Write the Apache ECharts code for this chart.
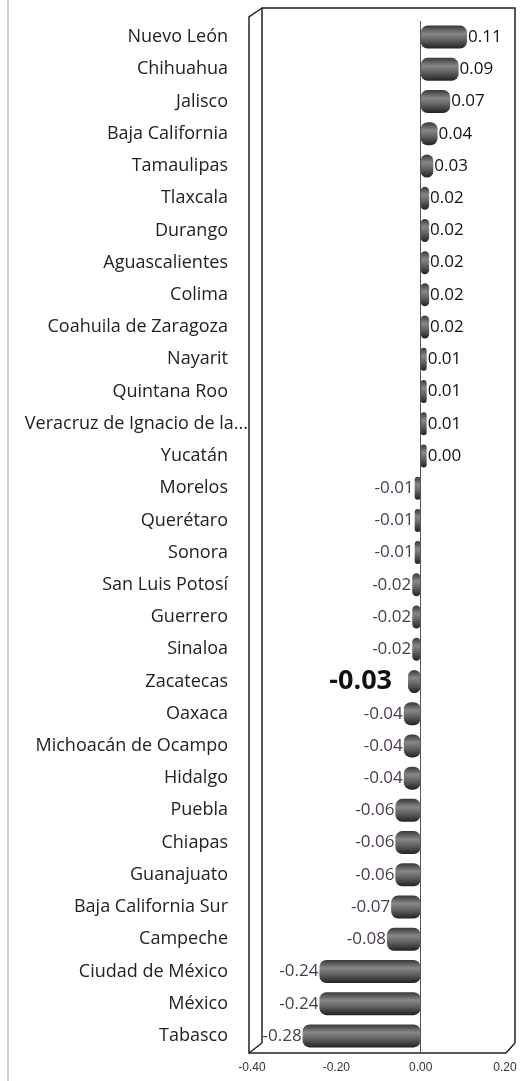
<!DOCTYPE html>
<html>
<head>
<meta charset="utf-8">
<script src="https://cdn.jsdelivr.net/npm/echarts@6/dist/echarts.min.js"></script>
<style>
  html, body { margin: 0; padding: 0; background: #fff; }
  #chart { width: 524px; height: 1081px; }
</style>
</head>
<body>
<div id="chart"></div>
<script>
// estados, de arriba hacia abajo
var estados = ['Nuevo León', 'Chihuahua', 'Jalisco', 'Baja California', 'Tamaulipas', 'Tlaxcala',
  'Durango', 'Aguascalientes', 'Colima', 'Coahuila de Zaragoza', 'Nayarit', 'Quintana Roo',
  'Veracruz de Ignacio de la...', 'Yucatán', 'Morelos', 'Querétaro', 'Sonora', 'San Luis Potosí',
  'Guerrero', 'Sinaloa', 'Zacatecas', 'Oaxaca', 'Michoacán de Ocampo', 'Hidalgo', 'Puebla',
  'Chiapas', 'Guanajuato', 'Baja California Sur', 'Campeche', 'Ciudad de México', 'México', 'Tabasco'];
var valores = [0.11, 0.09, 0.07, 0.04, 0.03, 0.02, 0.02, 0.02, 0.02, 0.02, 0.01, 0.01, 0.01, 0.00,
  -0.01, -0.01, -0.01, -0.02, -0.02, -0.02, -0.03, -0.04, -0.04, -0.04, -0.06, -0.06, -0.06,
  -0.07, -0.08, -0.24, -0.24, -0.28];
var ticksX = [-0.40, -0.20, 0.00, 0.20];
var destacado = 'Zacatecas';
var truncado = 'Veracruz de Ignacio de la...';

var myChart = echarts.init(document.getElementById('chart'));

// color del cilindro
var cilindro = new echarts.graphic.LinearGradient(0, 0, 0, 1, [
  { offset: 0, color: '#383838' },
  { offset: 0.35, color: '#878787' },
  { offset: 0.6, color: '#666' },
  { offset: 1, color: '#222' }
]);

var datos = valores.map(function (v, i) {
  var neg = v < 0;
  var item = {
    value: v,
    label: {
      position: neg ? 'left' : 'right',
      distance: 1,
      color: neg ? '#4a3a4e' : '#111'
    }
  };
  if (estados[i] === destacado) {
    item.label.fontSize = 27;
    item.label.fontWeight = 'bold';
    item.label.color = '#111';
    item.label.distance = 16;
  }
  return item;
});

// marco "3D" como en Excel
var marco = { stroke: '#222', lineWidth: 1.5, fill: null };

myChart.setOption({
  animation: false,
  grid: {
    left: 252,
    right: 19,
    top: 21,
    bottom: 29,
    show: false
  },
  xAxis: {
    type: 'value',
    min: ticksX[0],
    max: ticksX[ticksX.length - 1],
    interval: 0.2,
    axisLine: { show: false },
    axisTick: { show: false },
    splitLine: { show: false },
    axisLabel: {
      fontFamily: 'Liberation Sans',
      fontSize: 12,
      color: '#333',
      margin: 10,
      formatter: function (v) { return v.toFixed(2); }
    }
  },
  yAxis: {
    type: 'category',
    inverse: true,
    data: estados,
    axisLine: { show: false },
    axisTick: { show: false },
    axisLabel: {
      margin: 4,
      formatter: function (v) {
        return v === truncado ? '{b|' + v + '}' : '{a|' + v + '}';
      },
      rich: {
        a: { fontFamily: 'Open Sans', fontSize: 18, color: '#222', padding: [0, 20, 0, 0] },
        b: { fontFamily: 'Open Sans', fontSize: 18, color: '#222' }
      }
    }
  },
  series: [{
    type: 'bar',
    data: datos,
    barWidth: 23,
    barMinHeight: 6,
    itemStyle: {
      color: cilindro,
      borderRadius: 7
    },
    label: {
      show: true,
      fontFamily: 'Open Sans',
      fontSize: 17,
      formatter: function (p) { return p.value.toFixed(2); }
    },
    markLine: {
      silent: true,
      symbol: 'none',
      label: { show: false },
      lineStyle: { color: '#555', width: 1, type: 'solid' },
      data: [{ xAxis: 0 }]
    }
  }],
  graphic: [
    { type: 'line', shape: { x1: 8, y1: 0, x2: 8, y2: 1081 }, style: { stroke: '#a89cb0', lineWidth: 1 } },
    { type: 'polyline', shape: { points: [[262, 1043], [262, 8], [515, 8], [515, 1043]] }, style: marco },
    { type: 'polyline', shape: { points: [[262, 8], [249, 17], [249, 1053], [506, 1053], [515, 1043]] }, style: marco },
    { type: 'line', shape: { x1: 249, y1: 1053, x2: 262, y2: 1043 }, style: marco }
  ]
});
</script>
</body>
</html>
